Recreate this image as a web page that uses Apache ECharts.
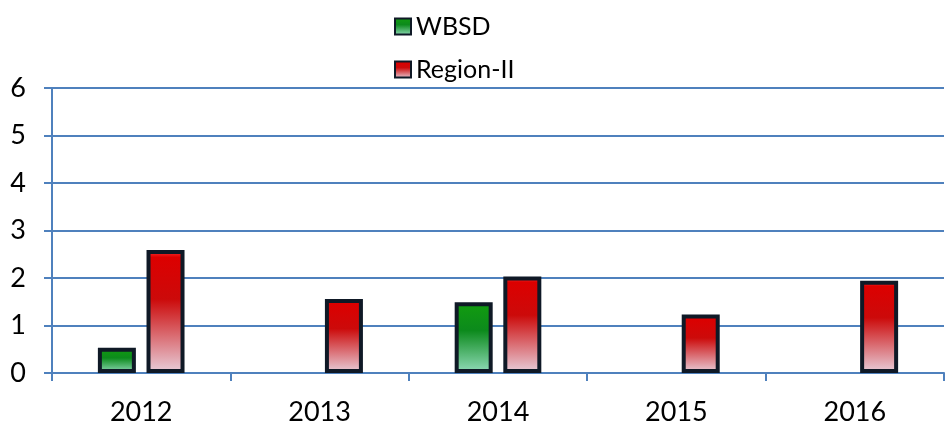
<!DOCTYPE html>
<html lang="en">
<head>
    <meta charset="UTF-8">
    <title>WBSD vs Region-II</title>
    <script src="https://cdn.jsdelivr.net/npm/echarts@6/dist/echarts.min.js"></script>
    <style>
        body{
            margin: 0
        }
        #chart{
            width: 946px;
            height: 428px;
        }
    </style>
</head>
<body>
    <div id="chart"></div>
    <script>
        var years = ['2012', '2013', '2014', '2015', '2016'];
        var wbsd = [0.53, null, 1.49, null, null];
        var region = [2.59, 1.56, 2.03, 1.23, 1.94];

        var axisBlue = '#4f81bd';
        var font = 'Lato, "Open Sans", sans-serif';

        function grad(hi, top, mid, bottom){
            return new echarts.graphic.LinearGradient(0, 0, 0, 1, [
                {offset: 0, color: hi},
                {offset: 0.06, color: top},
                {offset: 0.4, color: mid},
                {offset: 1, color: bottom}
            ]);
        }
        var greenFill = grad('#3cc83c', '#119a11', '#0c8a1c', '#93dcbc');
        var redFill = grad('#ff3a3a', '#dc0000', '#cc0a0a', '#e8d0dc');

        var myChart = echarts.init(document.getElementById('chart'));
        var option = {
            animation: false,
            legend: {
                orient: 'vertical',
                left: 389,
                top: 9,
                itemWidth: 16,
                itemHeight: 16,
                itemGap: 18,
                textStyle: {
                    fontSize: 25,
                    fontFamily: font,
                    color: '#000'
                },
                data: [
                    {name: 'WBSD', icon: 'rect'},
                    {name: 'Region-II', icon: 'rect'}
                ]
            },
            grid: {
                left: 52,
                right: 2,
                top: 88,
                bottom: 55
            },
            xAxis: {
                type: 'category',
                data: years,
                axisLine: {lineStyle: {color: axisBlue, width: 2}},
                axisTick: {show: true, length: 8, lineStyle: {color: axisBlue, width: 2}},
                axisLabel: {
                    margin: 26,
                    fontSize: 27,
                    fontFamily: font,
                    color: '#000'
                }
            },
            yAxis: {
                type: 'value',
                min: 0,
                max: 6,
                interval: 1,
                axisLine: {show: true, lineStyle: {color: axisBlue, width: 2}},
                axisTick: {show: true, length: 8, lineStyle: {color: axisBlue, width: 2}},
                splitLine: {lineStyle: {color: axisBlue, width: 2}},
                axisLabel: {
                    margin: 26,
                    fontSize: 27,
                    fontFamily: font,
                    color: '#000'
                }
            },
            series: [
                {
                    name: 'WBSD',
                    type: 'bar',
                    data: wbsd,
                    barWidth: 38,
                    barGap: '28%',
                    itemStyle: {
                        color: greenFill,
                        borderColor: '#0f1926',
                        borderWidth: 4
                    }
                },
                {
                    name: 'Region-II',
                    type: 'bar',
                    data: region,
                    barWidth: 38,
                    itemStyle: {
                        color: redFill,
                        borderColor: '#0f1926',
                        borderWidth: 4
                    }
                }
            ]
        };

        myChart.setOption(option);
    </script>
</body>
</html>
